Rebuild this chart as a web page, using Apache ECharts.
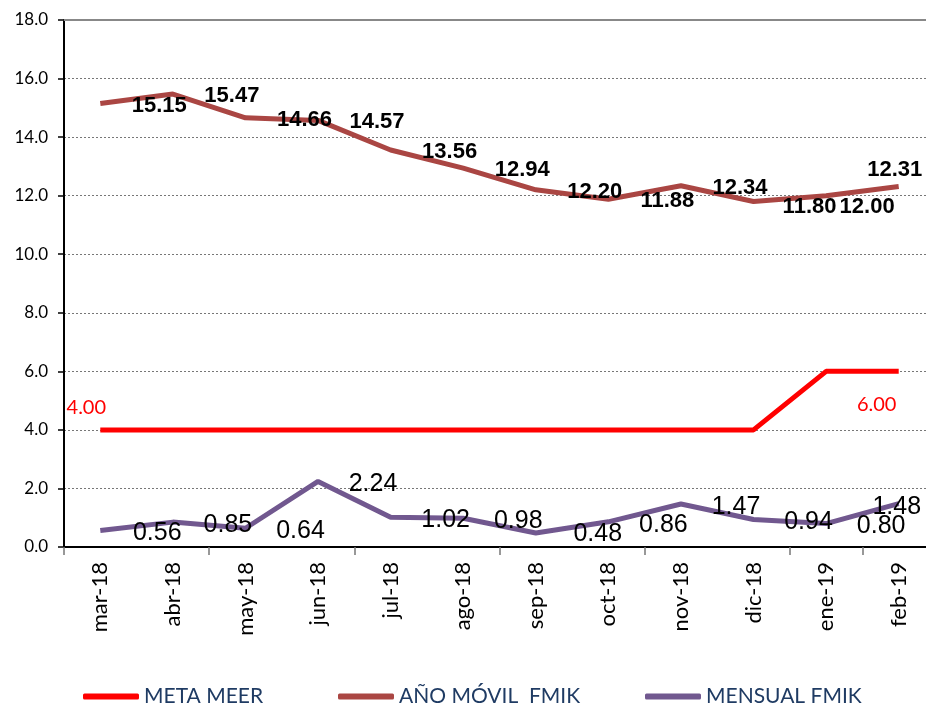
<!DOCTYPE html>
<html>
<head>
<meta charset="utf-8">
<script src="https://cdn.jsdelivr.net/npm/echarts@6/dist/echarts.min.js"></script>
<style>
html,body{margin:0;padding:0;background:#fff;overflow:hidden;}
#chart{width:926px;height:704px;}
</style>
</head>
<body>
<div id="chart"></div>
<script>
const categories = ['mar-18','abr-18','may-18','jun-18','jul-18','ago-18','sep-18','oct-18','nov-18','dic-18','ene-19','feb-19'];
const metaMeer = [4, 4, 4, 4, 4, 4, 4, 4, 4, 4, 6, 6];
const anoMovil = [15.15, 15.47, 14.66, 14.57, 13.56, 12.94, 12.20, 11.88, 12.34, 11.80, 12.00, 12.31];
const mensual = [0.56, 0.85, 0.64, 2.24, 1.02, 0.98, 0.48, 0.86, 1.47, 0.94, 0.80, 1.48];
const yTicks = { min: 0, max: 18, interval: 2 };
const seriesNames = ['META MEER', 'AÑO MÓVIL  FMIK', 'MENSUAL FMIK'];

const chart = echarts.init(document.getElementById('chart'), null, { renderer: 'canvas' });

function fmt(v) { return v.toFixed(2); }

// label placement nudges (style, not data)
const anoNudge = { 9: [56, 5], 10: [41, 11], 11: [-4, -17] };
const mensNudge = { 0: [57, 3], 6: [62, 1], 11: [-2, 3] };
const metaNudge = { 0: [-14, -22], 11: [-22, 33] };

const anoData = anoMovil.map((v, i) => ({
  value: v,
  label: { offset: anoNudge[i] || [59, 2] }
}));
const mensData = mensual.map((v, i) => ({
  value: v,
  label: { offset: mensNudge[i] || [55, 3] }
}));
const metaData = metaMeer.map((v, i) => ({
  value: v,
  label: { show: metaNudge[i] !== undefined, offset: metaNudge[i] || [0, 0] }
}));

const legendText = { color: '#1F3B63', fontSize: 21, lineHeight: 14, fontFamily: 'Lato, "Open Sans", sans-serif' };
const legendBase = { top: 686, itemWidth: 56, itemHeight: 6, icon: 'roundRect', itemGap: 0, textStyle: legendText, padding: 0 };

const option = {
  animation: false,
  backgroundColor: '#ffffff',
  grid: { left: 64, width: 871, top: 20, bottom: 157, containLabel: false, outerBoundsMode: 'none' },
  legend: [
    Object.assign({ data: [seriesNames[0]], left: 83 }, legendBase),
    Object.assign({ data: [seriesNames[1]], left: 338 }, legendBase),
    Object.assign({ data: [seriesNames[2]], left: 645 }, legendBase)
  ],
  xAxis: [
    {
      type: 'category',
      data: categories,
      boundaryGap: true,
      axisLine: { show: true, lineStyle: { color: '#000', width: 2 } },
      axisTick: { show: true, interval: 1, length: 8, lineStyle: { color: '#777', width: 1.5 } },
      axisLabel: { interval: 0, rotate: 90, margin: 15, color: '#000', fontSize: 22, fontFamily: 'Lato, "Open Sans", sans-serif' },
      splitLine: { show: false }
    },
    {
      type: 'category',
      data: categories,
      position: 'top',
      axisLine: { show: true, lineStyle: { color: '#888', width: 2 } },
      axisTick: { show: false },
      axisLabel: { show: false },
      splitLine: { show: false }
    }
  ],
  yAxis: {
    type: 'value',
    min: yTicks.min,
    max: yTicks.max,
    interval: yTicks.interval,
    axisLine: { show: true, lineStyle: { color: '#000', width: 2 } },
    axisTick: { show: true, length: 6, lineStyle: { color: '#000', width: 1.5 } },
    axisLabel: { formatter: v => v.toFixed(1), color: '#000', fontSize: 17, margin: 16, fontFamily: 'Lato, "Open Sans", sans-serif' },
    splitLine: { show: true, lineStyle: { color: '#777', type: [2, 2], width: 1 } }
  },
  series: [
    {
      name: seriesNames[0],
      type: 'line',
      data: metaData,
      symbol: 'circle',
      symbolSize: 0,
      itemStyle: { color: '#FF0000' },
      lineStyle: { color: '#FF0000', width: 5 },
      label: { show: false, position: 'inside', formatter: p => fmt(p.value), color: '#FF0000', fontSize: 20, fontFamily: 'Lato, "Open Sans", sans-serif' },
      z: 3
    },
    {
      name: seriesNames[1],
      type: 'line',
      data: anoData,
      symbol: 'circle',
      symbolSize: 0,
      itemStyle: { color: '#AA4643' },
      lineStyle: { color: '#AA4643', width: 5 },
      label: { show: true, position: 'inside', formatter: p => fmt(p.value), color: '#000', fontSize: 22, fontWeight: 'bold', fontFamily: '"Liberation Sans", Arial, sans-serif' },
      z: 3
    },
    {
      name: seriesNames[2],
      type: 'line',
      data: mensData,
      symbol: 'circle',
      symbolSize: 0,
      itemStyle: { color: '#71588F' },
      lineStyle: { color: '#71588F', width: 5 },
      label: { show: true, position: 'inside', formatter: p => fmt(p.value), color: '#000', fontSize: 25, fontFamily: '"Liberation Sans", Arial, sans-serif' },
      z: 3
    }
  ]
};
chart.setOption(option);
</script>
</body>
</html>
